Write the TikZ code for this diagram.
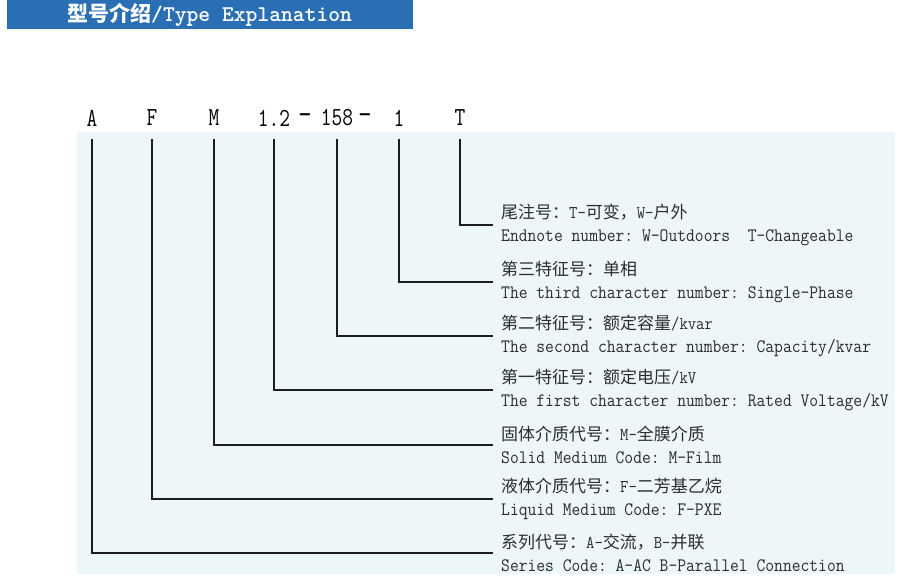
\documentclass[tikz,border=0pt]{standalone}
\usepackage{fontspec}
\setmainfont{Liberation Serif}
\newfontfamily\cjk{Noto Sans CJK SC}
\newfontfamily\codefont[FakeStretch=0.9]{Latin Modern Mono}
\newfontfamily\partfont[FakeStretch=0.8]{Latin Modern Mono}
\frenchspacing

\definecolor{titleblue}{RGB}{42,110,180}
\definecolor{panel}{RGB}{237,246,249}
\definecolor{txtgray}{RGB}{45,45,45}
\definecolor{linegray}{RGB}{30,30,30}

% latin bits inside a chinese line, and the english lines
\newcommand{\lat}[1]{{\codefont\fontsize{18}{23}\selectfont #1}}
\newcommand{\en}[1]{{\codefont\fontsize{19}{23}\selectfont #1}}

\begin{document}
\begin{tikzpicture}[x=1pt, y=-1pt,
    part/.style={font=\partfont\fontsize{26}{26}\selectfont, inner sep=0pt},
    desc/.style={anchor=west, align=left, inner sep=0pt, text=txtgray,
                 font=\cjk\fontsize{17}{23}\selectfont},
    lead/.style={draw=linegray, line width=1.2pt}]
  \useasboundingbox (0,0) rectangle (905,585);

  % title bar
  \fill[titleblue] (7,0) rectangle (413,29);
  \node[anchor=west, inner sep=0pt, text=white] (title) at (67,15)
    {{\cjk\bfseries\fontsize{21}{24}\selectfont 型号介绍}{\ttfamily\bfseries\fontsize{22.5}{24}\selectfont /Type Explanation}};

  % light panel behind the leaders
  \fill[panel] (77,132) rectangle (895,574);

  % model code, one part per letter group
  \node[part] (pA)   at (92,118)  {A};
  \node[part] (pF)   at (152,118) {F};
  \node[part] (pM)   at (214,118) {M};
  \node[part] (pU)   at (274,118) {1.2};
  \node[part, font=\partfont\fontsize{32}{32}\selectfont] (dsh1) at (305,119) {-};
  \node[part] (pQ)   at (337,118) {158};
  \node[part, font=\partfont\fontsize{32}{32}\selectfont] (dsh2) at (365,119) {-};
  \node[part] (pP)   at (399,118) {1};
  \node[part] (pT)   at (460,118) {T};

  % explanations
  \node[desc] (dT) at (501,225) {尾注号：\lat{T-}可变，\lat{W-}户外\\ \en{Endnote number: W-Outdoors~~T-Changeable}};
  \node[desc] (dP) at (501,282) {第三特征号：单相\\ \en{The third character number: Single-Phase}};
  \node[desc] (dQ) at (501,336) {第二特征号：额定容量\lat{/kvar}\\ \en{The second character number: Capacity/kvar}};
  \node[desc] (dU) at (501,390) {第一特征号：额定电压\lat{/kV}\\ \en{The first character number: Rated Voltage/kV}};
  \node[desc] (dM) at (501,445) {固体介质代号：\lat{M-}全膜介质\\ \en{Solid Medium Code: M-Film}};
  \node[desc] (dF) at (501,499) {液体介质代号：\lat{F-}二芳基乙烷\\ \en{Liquid Medium Code: F-PXE}};
  \node[desc] (dA) at (501,553) {系列代号：\lat{A-}交流，\lat{B-}并联\\ \en{Series Code: A-AC B-Parallel Connection}};

  % leaders
  \draw[lead] ([yshift=-13pt]pT.south) |- ([xshift=-8pt]dT.west);
  \draw[lead] ([yshift=-13pt]pP.south) |- ([xshift=-8pt]dP.west);
  \draw[lead] ([yshift=-13pt]pQ.south) |- ([xshift=-8pt]dQ.west);
  \draw[lead] ([yshift=-13pt]pU.south) |- ([xshift=-8pt]dU.west);
  \draw[lead] ([yshift=-13pt]pM.south) |- ([xshift=-8pt]dM.west);
  \draw[lead] ([yshift=-13pt]pF.south) |- ([xshift=-8pt]dF.west);
  \draw[lead] ([yshift=-13pt]pA.south) |- ([xshift=-8pt]dA.west);
\end{tikzpicture}
\end{document}
